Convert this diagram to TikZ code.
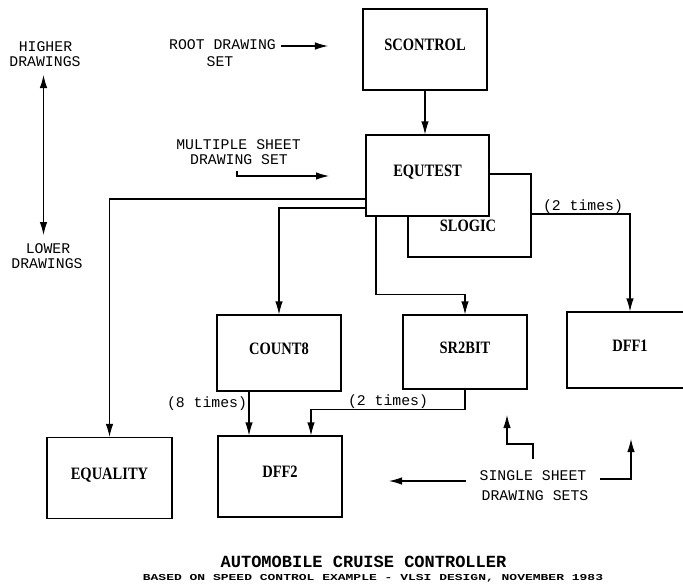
\documentclass[tikz,border=0pt]{standalone}
\usepackage{fontspec}
\setmainfont{Liberation Serif}
\setmonofont{Liberation Mono}
\usetikzlibrary{arrows.meta}

% Blockbeschriftung etwas gestreckt
\newcommand{\blk}[1]{\scalebox{1}[1.2]{#1}}

\tikzset{
  block/.style={draw, line width=1.1pt, fill=white, minimum width=124pt,
    minimum height=81pt, inner sep=0pt, text height=11.5pt, text depth=9pt,
    font=\bfseries\fontsize{14.5}{16}\selectfont},
  blabel/.style={inner sep=0pt, font=\bfseries\fontsize{14.5}{16}\selectfont},
  anno/.style={inner sep=0pt, font=\ttfamily\fontsize{14.8}{17}\selectfont},
  pfeil/.style={line width=1.1pt, -{Latex[length=13pt,width=7.5pt]}},
  doppelpfeil/.style={line width=1.1pt, {Latex[length=13pt,width=7.5pt]}-{Latex[length=13pt,width=7.5pt]}},
}

\begin{document}
\begin{tikzpicture}[x=1pt, y=-1pt] % Raster in Pixeln, y nach unten

% Zeichenflaeche
\fill[white] (0,0) rectangle (683,587);
\clip (0,0) rectangle (683,587);

% Bloecke der Hierarchie
\node[block] (scontrol) at (425,49.5) {\blk{SCONTROL}};
\node[block, minimum width=123pt, minimum height=83pt] (slogic) at (469.5,215.5) {};
\node[block, minimum width=123pt] (equtest) at (427.5,175.5) {\blk{EQUTEST}}; % liegt ueber SLOGIC
\node[blabel] (slogiclbl) at (468,226) {\blk{SLOGIC}};
\node[block, minimum height=76pt] (count8) at (279,353) {\blk{COUNT8}};
\node[block, minimum height=74pt] (sr2bit) at (465,352) {\blk{SR2BIT}};
\node[block, minimum width=126pt, minimum height=76pt] (dff1) at (630,350) {\blk{DFF1}};
\node[block, minimum width=125pt] (equality) at (109.5,478) {\blk{EQUALITY}};
\node[block] (dff2) at (280,476.5) {\blk{DFF2}};

% Verbindungen
\draw[pfeil] (scontrol.south) -- (scontrol.south |- equtest.north);
\draw[pfeil] ([yshift=-23.5pt]equtest.west) -| (equality.north);
\draw[pfeil] ([yshift=-32.5pt]equtest.west) -| (count8.north);
\draw[pfeil] ([xshift=-51.5pt]equtest.south) -- ++(0,78) -| (sr2bit.north);
\draw[pfeil] ([yshift=1.5pt]slogic.east) -| (dff1.north);
\draw[pfeil] ([xshift=-30pt]count8.south) -- ([xshift=-30pt]count8.south |- dff2.north);
\draw[pfeil] (sr2bit.south) -- ++(0,20) -| ([xshift=31pt]dff2.north);

% Anzahl der Instanzen
\node[anno] (mal2a) at (583,207) {(2 times)};
\node[anno] (mal8) at (207,404) {(8 times)};
\node[anno] (mal2b) at (388,402) {(2 times)};

% Hoehere / niedrigere Zeichnungen
\node[anno] (higher) at (45.5,47) {HIGHER};
\node[anno] (higherb) at (45,62) {DRAWINGS};
\node[anno] (lower) at (48,249) {LOWER};
\node[anno] (lowerb) at (47,264) {DRAWINGS};
\coordinate (oben) at (43.5,75);
\coordinate (unten) at (43.5,235);
\draw[doppelpfeil] (oben) -- (unten);

% Wurzel
\node[anno] (root) at (222.5,45) {ROOT DRAWING};
\node[anno] (rootset) at (220,62) {SET};
\draw[pfeil] ([xshift=5pt,yshift=-1pt]root.east) -- ++(47,0);

% Mehrblatt-Zeichnung
\node[anno] (multi) at (238.5,145) {MULTIPLE SHEET};
\node[anno] (multiset) at (239,160) {DRAWING SET};
\coordinate (msstart) at (237,171);
\draw[pfeil] (msstart) |- ++(92,5);

% Einzelblatt-Zeichnungen
\node[anno] (single) at (533,476) {SINGLE SHEET};
\node[anno] (singleset) at (535,496) {DRAWING SETS};
\coordinate (s0) at (466,481);
\coordinate (s1) at (533,459);
\coordinate (s2) at (600,479);
\draw[pfeil] (s0) -- ++(-77,0);
\draw[pfeil] (s1) -- ++(0,-15) -| (507,415);
\draw[pfeil] (s2) -| (631,439);

% Titel
\node[inner sep=0pt, font=\ttfamily\bfseries\fontsize{17}{20}\selectfont] (titel) at (363.5,562) {AUTOMOBILE CRUISE CONTROLLER};
\node[inner sep=0pt, font=\ttfamily\bfseries\fontsize{13}{15}\selectfont] (untertitel) at (373,578)
  {\scalebox{1}[0.7]{BASED ON SPEED CONTROL EXAMPLE - VLSI DESIGN, NOVEMBER 1983}};

\end{tikzpicture}
\end{document}
